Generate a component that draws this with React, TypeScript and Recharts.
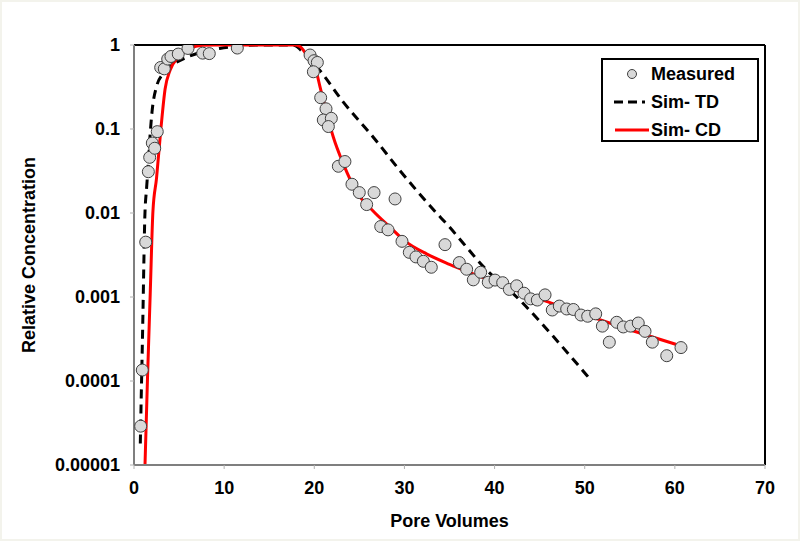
import {
  ComposedChart,
  Line,
  Scatter,
  XAxis,
  YAxis,
  ReferenceLine,
} from 'recharts';

// Measured relative concentration vs pore volumes
const measuredX = [
  0.74, 0.92, 1.3, 1.59, 1.74, 2.03, 2.3, 2.58, 2.96, 3.36, 3.74, 4.1, 4.91, 5.99, 7.62, 8.35, 11.46,
  19.53, 19.97, 20.34, 19.9, 20.71, 21.3, 21.0, 21.89, 21.56, 22.67, 23.4, 24.18, 24.99, 26.63,
  25.81, 28.96, 27.37, 28.18, 29.73, 30.54, 31.28, 32.1, 32.98, 34.5, 36.09, 36.9, 37.64, 38.46,
  39.3, 40.05, 40.9, 41.64, 42.45, 43.27, 44.0, 44.74, 45.6, 46.4, 47.18, 48.0, 48.74, 49.59,
  50.33, 51.22, 51.96, 52.73, 53.55, 54.28, 55.1, 55.94, 56.69, 57.5, 59.1, 60.68,
];
const measuredY = [
  2.9e-5, 1.35e-4, 0.0045, 0.031, 0.046, 0.068, 0.059, 0.093, 0.54, 0.52, 0.68, 0.73, 0.78, 0.91, 0.8, 0.79, 0.92,
  0.76, 0.65, 0.62, 0.48, 0.236, 0.174, 0.128, 0.134, 0.107, 0.036, 0.041, 0.022, 0.0175, 0.0175,
  0.0126, 0.0147, 0.0069, 0.0063, 0.0046, 0.0034, 0.003, 0.00266, 0.00226, 0.0042, 0.00257, 0.00214, 0.0016, 0.00197,
  0.0015, 0.00159, 0.00148, 0.00123, 0.00136, 0.00111, 0.00095, 0.00092, 0.00106, 0.0007, 0.00078, 0.00072, 0.00071, 0.00061,
  0.00059, 0.00063, 0.00045, 0.00029, 0.0005, 0.00044, 0.00045, 0.00049, 0.00039, 0.00029, 0.0002, 0.00025,
];

// Sim- TD (dashed)
const tdX = [
  0.7, 0.8, 0.9, 1.0, 1.1, 1.2, 1.4, 1.6, 1.8, 2.0, 2.5, 3.25, 4.5, 6.2, 9.5, 12, 14, 17.5,
  18.0, 18.5, 19.5, 20.6, 23.2, 26.5, 29.5, 33.2, 35, 36.5, 38.75, 42.8, 46.5, 50.2, 50.7,
];
const tdY = [
  1.8e-5, 6.3e-5, 2e-4, 7e-4, 2.8e-3, 8.9e-3, 0.02, 0.04, 0.089, 0.16, 0.32, 0.46, 0.6, 0.74, 0.91, 0.98, 1, 1,
  0.97, 0.87, 0.68, 0.5, 0.21, 0.081, 0.032, 0.011, 0.0068, 0.0044, 0.0023, 0.00092, 0.00034, 0.000118, 0.000102,
];

// Sim- CD (solid red)
const cdX = [
  1.22, 1.5, 1.8, 2.1, 2.5, 3.0, 3.45, 4.0, 4.9, 6.2, 7.6, 9, 17.8,
  18.4, 19.16, 20.08, 20.63, 21.37, 22.1, 23.2, 24.7, 26.55, 28.4, 30, 32.5, 35, 37.5, 40,
  45, 50, 55, 60.6,
];
const cdY = [
  1e-5, 1.1e-4, 1.1e-3, 0.0105, 0.026, 0.105, 0.3, 0.5, 0.72, 0.91, 0.99, 1, 1,
  0.96, 0.76, 0.55, 0.32, 0.155, 0.081, 0.039, 0.0178, 0.0105, 0.0068, 0.00468, 0.00324, 0.00245, 0.00191, 0.00151,
  0.00095, 0.000617, 0.000407, 0.000263,
];

const xTicks = [0, 10, 20, 30, 40, 50, 60, 70];
const yTicks = [0.00001, 0.0001, 0.001, 0.01, 0.1, 1];
const yTickLabels = ['0.00001', '0.0001', '0.001', '0.01', '0.1', '1'];

const measured = measuredX.map((x, i) => ({ x, y: measuredY[i] }));
const simTD = tdX.map((x, i) => ({ x, y: tdY[i] }));
const simCD = cdX.map((x, i) => ({ x, y: cdY[i] }));

const FONT = '"Liberation Sans", Arial, sans-serif';
const tickStyle = { fontSize: 18, fontWeight: 'bold', fill: '#000', fontFamily: FONT };

function Marker(props: { cx?: number; cy?: number }) {
  const { cx, cy } = props;
  if (cx == null || cy == null) return null;
  return <circle cx={cx} cy={cy} r={6} fill="#d9d9d9" stroke="#404040" strokeWidth={1} />;
}

function LegendBox() {
  const row = { display: 'flex', alignItems: 'center', height: 28 };
  const label = { fontSize: 18, fontWeight: 'bold' as const, fontFamily: FONT, color: '#000' };
  return (
    <div
      style={{
        position: 'absolute',
        left: 601,
        top: 58,
        width: 154,
        height: 80,
        border: '2px solid #000',
        background: '#fff',
        boxSizing: 'content-box',
      }}
    >
      <div style={row}>
        <svg width={48} height={20}>
          <circle cx={29} cy={10} r={4.5} fill="#d9d9d9" stroke="#404040" strokeWidth={1} />
        </svg>
        <span style={label}>Measured</span>
      </div>
      <div style={row}>
        <svg width={48} height={20}>
          <line x1={11} y1={10} x2={42} y2={10} stroke="#000" strokeWidth={3} strokeDasharray="9 5" />
        </svg>
        <span style={label}>Sim- TD</span>
      </div>
      <div style={row}>
        <svg width={48} height={20}>
          <line x1={12} y1={10} x2={46} y2={10} stroke="#ff0000" strokeWidth={3} />
        </svg>
        <span style={label}>Sim- CD</span>
      </div>
    </div>
  );
}

export default function App() {
  return (
    <div style={{ position: 'absolute', left: 0, top: 0, width: 800, height: 541, background: '#fff' }}>
      <ComposedChart width={800} height={541} margin={{ top: 45, right: 35, bottom: 6, left: 14 }}>
        <XAxis
          type="number"
          dataKey="x"
          domain={[0, 70]}
          ticks={xTicks}
          allowDataOverflow
          height={70}
          axisLine={{ stroke: '#7f7f7f', strokeWidth: 2 }}
          tickLine={{ stroke: '#b0b0b0' }}
          tickSize={4}
          tickMargin={12}
          tick={tickStyle}
          label={{
            value: 'Pore Volumes',
            position: 'insideBottom',
            offset: 8,
            style: { ...tickStyle, textAnchor: 'middle' },
          }}
        />
        <YAxis
          type="number"
          dataKey="y"
          scale="log"
          domain={[0.00001, 1]}
          ticks={yTicks}
          allowDataOverflow
          width={120}
          axisLine={{ stroke: '#7f7f7f', strokeWidth: 2 }}
          tickLine={{ stroke: '#b0b0b0' }}
          tickSize={4}
          tickMargin={10}
          tick={tickStyle}
          tickFormatter={(v: number) => yTickLabels[yTicks.indexOf(v)] ?? String(v)}
          label={{
            value: 'Relative Concentration',
            angle: -90,
            position: 'insideLeft',
            offset: 15,
            style: { ...tickStyle, textAnchor: 'middle' },
          }}
        />
        <ReferenceLine y={1} stroke="#000" strokeWidth={2} />
        <ReferenceLine x={70} stroke="#000" strokeWidth={2} />
        <Line
          data={simTD}
          dataKey="y"
          name="Sim- TD"
          type="monotone"
          stroke="#000"
          strokeWidth={3}
          strokeDasharray="9 6"
          dot={false}
          activeDot={false}
          isAnimationActive={false}
        />
        <Line
          data={simCD}
          dataKey="y"
          name="Sim- CD"
          type="monotone"
          stroke="#ff0000"
          strokeWidth={3}
          dot={false}
          activeDot={false}
          isAnimationActive={false}
        />
        <Scatter
          data={measured}
          dataKey="y"
          name="Measured"
          shape={<Marker />}
          isAnimationActive={false}
        />
      </ComposedChart>
      <LegendBox />
      <div
        style={{
          position: 'absolute',
          inset: 0,
          pointerEvents: 'none',
          boxShadow: 'inset 0 0 0 2px #f3f3ec',
        }}
      />
    </div>
  );
}
